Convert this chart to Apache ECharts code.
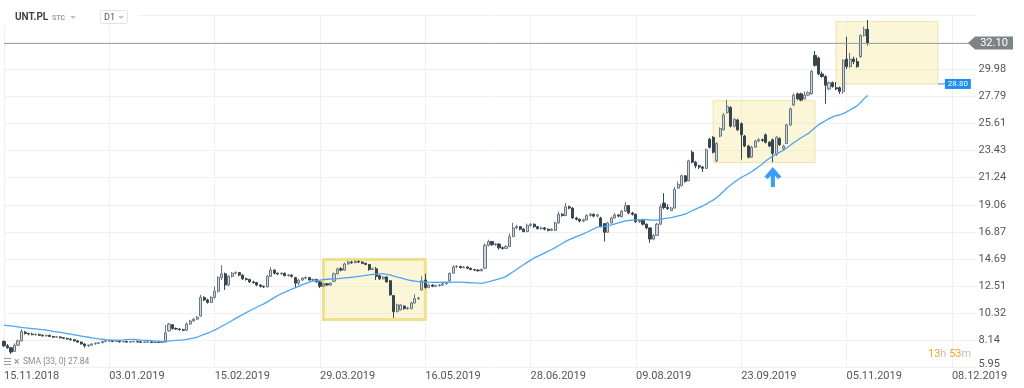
<!DOCTYPE html>
<html><head><meta charset="utf-8">
<script src="https://cdn.jsdelivr.net/npm/echarts@6/dist/echarts.min.js"></script>
<style>html,body{margin:0;padding:0;background:#fff}#c{width:1024px;height:388px}</style>
</head><body><div id="c"></div>
<script>
// ---- data ----
const tickLabels = ['15.11.2018','03.01.2019','15.02.2019','29.03.2019','16.05.2019','28.06.2019','09.08.2019','23.09.2019','05.11.2019','08.12.2019'];
const TOTAL_SLOTS = 278;   // trading-day slots on the axis (data + empty future)
const TICK_EVERY = 30;
const opens = [
8.05,7.7,7.55,7.25,7.75,8.1,8.8,8.7,8.65,8.6,
8.62,8.55,8.5,8.55,8.45,8.4,8.42,8.35,8.3,8.25,
8.2,8.1,8.0,7.85,7.7,7.75,7.85,7.9,7.95,8.05,
8.1,8.1,8.05,8.08,8.02,8.05,8.0,8.03,8.05,8.02,
7.98,8.0,8.02,7.97,8.0,7.98,8.0,8.9,9.4,9.1,
9.05,9.0,8.95,9.45,9.7,9.85,10.1,11.6,11.4,11.2,
11.6,12.1,13.2,13.5,12.6,13.3,13.55,13.6,13.4,13.1,
13.05,12.85,12.8,12.6,12.5,12.45,13.3,13.8,13.55,13.5,
13.55,13.35,13.4,13.2,12.75,13.0,13.15,13.2,13.0,13.05,
12.85,12.5,12.7,12.6,12.9,13.5,13.9,13.8,14.3,14.45,
14.4,14.5,14.45,14.35,14.25,13.85,13.9,13.35,13.1,13.25,
12.95,11.75,10.45,10.6,10.9,10.7,10.7,11.15,11.5,12.2,
13.0,12.4,12.6,12.5,12.55,12.6,12.7,12.95,13.55,14.05,
14.1,14.0,14.05,13.95,13.85,13.8,13.75,13.95,15.8,16.1,
15.85,15.9,15.6,15.55,15.7,16.5,17.2,17.3,17.1,16.9,
17.4,17.5,17.3,17.15,17.2,17.1,17.0,17.0,17.6,18.3,
18.2,18.9,18.8,18.0,17.9,17.75,17.85,18.2,18.3,18.15,
18.0,17.55,16.85,17.6,18.0,18.25,18.1,18.55,19.0,18.4,
18.3,17.7,17.8,17.5,17.2,16.3,16.6,17.5,19.2,18.85,
18.6,18.8,20.4,20.6,21.4,21.0,23.3,22.5,22.2,22.1,
22.0,24.35,24.5,22.6,24.6,25.1,26.5,26.9,25.4,25.9,
25.6,24.6,23.8,22.9,23.7,24.2,24.3,24.7,24.1,24.3,
23.1,24.4,23.6,24.0,25.5,27.1,28.0,28.0,27.6,27.9,
28.0,31.1,30.9,29.6,29.4,28.4,28.9,28.5,28.5,28.2,
30.8,30.2,30.8,30.6,31.0,32.7,33.2];
const closes = [
7.7,7.55,7.2,7.75,8.1,8.85,8.7,8.65,8.6,8.62,
8.55,8.5,8.55,8.45,8.4,8.42,8.35,8.3,8.25,8.2,
8.1,8.0,7.85,7.7,7.75,7.85,7.9,7.95,8.05,8.1,
8.1,8.05,8.08,8.02,8.05,8.0,8.03,8.05,8.02,7.98,
8.0,8.02,7.97,8.0,7.98,8.0,8.75,9.45,9.1,9.05,
9.0,8.95,9.45,9.7,9.85,10.0,11.6,11.4,11.2,11.6,
12.1,13.2,13.5,12.6,13.3,13.55,13.6,13.4,13.1,13.05,
12.85,12.8,12.6,12.5,12.45,13.3,13.8,13.55,13.5,13.55,
13.35,13.4,13.3,12.75,13.0,13.15,13.2,13.0,13.05,12.85,
12.5,12.7,12.6,12.75,13.5,13.9,13.8,14.3,14.45,14.4,
14.5,14.45,14.35,14.25,13.85,13.9,13.3,13.1,13.25,12.85,
11.8,10.45,11.0,11.0,10.7,10.75,11.15,11.5,11.55,12.95,
12.4,12.6,12.5,12.55,12.6,12.7,12.8,13.55,14.05,14.1,
14.0,14.05,13.95,13.85,13.8,13.75,13.85,15.8,16.1,15.85,
15.9,15.6,15.55,15.7,16.5,17.2,17.3,17.1,16.9,17.4,
17.5,17.3,17.15,17.2,17.1,17.0,17.1,17.6,18.3,18.2,
18.9,18.8,18.0,17.9,17.75,17.85,18.2,18.3,18.15,18.25,
17.3,16.85,17.6,18.0,18.25,18.15,18.55,19.0,18.4,18.3,
17.7,17.8,17.5,17.2,16.3,16.6,17.5,18.9,18.85,18.75,
18.8,20.3,20.7,21.4,20.95,22.6,22.5,22.2,22.1,22.0,
23.5,23.7,23.3,24.0,25.2,26.3,27.0,25.4,25.95,25.1,
24.7,23.8,22.9,23.7,24.2,24.3,24.25,24.1,23.8,23.2,
24.5,23.9,23.8,25.5,26.8,27.9,27.6,27.5,27.9,28.1,
29.8,30.3,29.6,29.4,28.7,28.9,28.6,28.4,28.2,30.7,
30.2,30.8,30.6,30.2,32.7,33.2,32.1];
const lows = [
7.6,7.45,7.05,7.2,7.7,8.05,8.6,8.55,8.55,8.5,
8.5,8.45,8.45,8.4,8.35,8.33,8.3,8.25,8.2,8.12,
8.05,7.95,7.8,7.55,7.6,7.7,7.8,7.85,7.9,8.0,
8.02,8.0,8.0,7.97,7.98,7.95,7.95,7.98,7.96,7.92,
7.93,7.95,7.92,7.92,7.92,7.93,7.95,8.85,9.0,8.98,
8.92,8.88,8.9,9.4,9.65,9.8,10.05,11.3,11.1,11.15,
11.5,12.0,13.0,12.2,12.5,13.2,13.45,13.3,13.0,12.95,
12.75,12.7,12.5,12.4,12.35,12.4,13.25,13.45,13.4,13.42,
13.3,13.28,13.2,12.4,12.6,12.95,13.05,12.95,12.92,12.8,
12.35,12.45,12.55,12.55,12.85,13.45,13.7,13.75,14.25,14.3,
14.35,14.38,14.28,14.2,13.75,13.8,13.0,13.0,13.05,12.8,
11.75,9.95,10.4,10.55,10.6,10.6,10.65,11.1,11.4,12.15,
12.3,12.35,12.42,12.42,12.48,12.52,12.62,12.9,13.5,13.95,
13.92,13.95,13.88,13.78,13.72,13.68,13.7,13.9,15.7,15.75,
15.75,15.45,15.45,15.5,15.65,16.45,17.1,17.0,16.85,16.85,
17.3,17.2,17.05,17.05,17.0,16.92,16.95,16.95,17.55,18.1,
18.15,18.7,17.95,17.8,17.65,17.65,17.8,18.1,18.05,18.05,
17.25,16.1,16.8,17.55,17.95,18.05,18.05,18.5,18.3,18.2,
17.6,17.6,17.4,17.1,16.0,16.2,16.55,17.45,18.7,18.65,
18.55,18.75,20.35,20.55,20.85,20.95,22.4,22.0,21.95,21.7,
21.95,23.6,23.2,22.5,24.5,25.05,26.4,25.3,25.3,25.0,
22.7,23.7,22.8,22.85,23.65,24.1,24.15,24.0,23.7,22.5,
23.0,23.8,23.4,23.95,25.4,27.0,27.5,27.4,27.55,27.85,
27.95,30.2,29.5,29.3,27.2,28.3,28.5,28.3,28.0,28.0,
30.0,30.1,30.4,30.1,30.9,32.6,31.9];
const highs = [
8.15,7.85,7.6,7.9,8.2,9.05,8.9,8.75,8.75,8.7,
8.68,8.62,8.6,8.6,8.5,8.5,8.46,8.4,8.36,8.3,
8.25,8.15,8.05,7.9,7.82,7.9,7.98,8.02,8.1,8.15,
8.18,8.15,8.14,8.12,8.1,8.1,8.08,8.12,8.1,8.06,
8.05,8.08,8.06,8.05,8.05,8.06,9.38,9.55,9.45,9.18,
9.12,9.08,9.6,9.8,9.95,10.1,11.8,11.7,11.5,11.7,
12.5,13.3,14.2,13.6,13.4,13.65,13.7,13.65,13.45,13.2,
13.1,12.95,12.85,12.65,12.55,13.4,14.05,13.85,13.6,13.62,
13.6,13.48,13.45,13.25,13.1,13.22,13.3,13.25,13.1,13.1,
12.9,12.78,12.76,12.8,13.6,14.0,14.05,14.4,14.55,14.55,
14.6,14.58,14.5,14.4,14.3,14.0,14.05,13.4,13.3,13.3,
13.0,11.8,11.1,11.05,10.95,10.85,11.25,11.85,11.65,13.3,
13.5,12.7,12.66,12.62,12.68,12.76,12.86,13.6,14.2,14.2,
14.15,14.12,14.1,14.0,13.9,13.86,13.92,15.95,16.25,16.15,
16.0,15.98,15.7,15.8,16.75,17.6,17.45,17.35,17.2,17.55,
17.6,17.55,17.35,17.3,17.28,17.15,17.18,17.7,18.5,18.4,
19.2,19.0,18.85,18.1,17.95,17.95,18.3,18.4,18.35,18.35,
18.1,17.6,17.7,18.1,18.4,18.3,18.65,19.3,19.05,18.5,
18.35,17.9,17.85,17.55,17.25,16.7,17.6,19.1,20.0,19.1,
18.9,20.5,20.95,21.5,21.45,22.7,23.45,22.6,22.3,22.2,
23.6,24.45,24.6,24.1,25.3,26.45,27.5,27.0,26.05,26.0,
25.7,24.7,23.9,23.8,24.3,24.45,24.4,24.8,24.2,24.4,
24.6,24.5,23.9,25.6,26.9,28.05,28.1,28.1,28.2,28.2,
29.95,31.45,31.0,29.8,29.5,29.0,29.0,28.95,28.6,30.8,
32.6,31.3,31.0,30.9,32.8,33.4,33.95];
// SMA(33) for the first 32 sessions (earlier closes not visible)
const smaHead = [9.36,9.33,9.3,9.26,9.22,9.18,9.15,9.12,9.09,9.06,9.03,9.0,8.96,8.92,8.87,8.83,
8.79,8.74,8.69,8.64,8.59,8.54,8.49,8.44,8.39,8.34,8.3,8.26,8.23,8.2,8.18,8.16];
const SMA_PERIOD = 33;
const smaLegend = 'SMA [33, 0] 27.84';
const lastPrice = 32.10;
const boxLowPrice = 28.80;
// rectangles drawn on the chart: [startIdx, topPrice, endIdx, bottomPrice]
const boxes = [[91, 14.66, 120, 9.82], [202, 27.45, 231, 22.46], [237, 33.82, 266, 28.80]];
const arrowAt = [219, 21.3];
const yMin = 5.9535, yStep = 2.1841, yTickCount = 13;

// ---- build ----
const cats = Array.from({length: TOTAL_SLOTS}, (_, i) => String(i));
const candles = opens.map((o, i) => [o, closes[i], lows[i], highs[i]]);
const sma = closes.map((c, i) => {
  if (i < SMA_PERIOD - 1) return smaHead[i];
  let s = 0; for (let k = i - SMA_PERIOD + 1; k <= i; k++) s += closes[k];
  return +(s / SMA_PERIOD).toFixed(3);
});

const chart = echarts.init(document.getElementById('c'), null, {renderer: 'canvas'});
const FONT = 'Roboto';
const boxStyles = [
  {color: 'rgba(246,228,140,0.33)', borderColor: '#f0e08e', borderWidth: 3},
  {color: 'rgba(246,228,140,0.33)', borderColor: '#efe3a6', borderWidth: 1},
  {color: 'rgba(246,228,140,0.33)', borderColor: '#efe3a6', borderWidth: 1}
];
chart.setOption({
  animation: false,
  backgroundColor: '#fff',
  grid: {left: 4, right: 47.5, top: 15.1, bottom: 20.5, outerBoundsMode: 'none'},
  xAxis: {
    type: 'category', data: cats, boundaryGap: false,
    axisLine: {show: false}, axisTick: {show: false},
    axisLabel: {
      interval: TICK_EVERY - 1, align: 'left', margin: 3,
      color: '#555', fontSize: 11, fontFamily: FONT,
      formatter: (v, i) => (i % TICK_EVERY === 0 && tickLabels[i / TICK_EVERY]) || ''
    },
    splitLine: {show: true, interval: TICK_EVERY - 1, lineStyle: {color: '#eef0f2', width: 1}}
  },
  yAxis: {
    type: 'value', position: 'right',
    min: yMin, max: yMin + yStep * yTickCount, interval: yStep,
    axisLine: {show: false}, axisTick: {show: false},
    axisLabel: {
      margin: 2, color: '#555', fontSize: 11, fontFamily: FONT,
      formatter: v => v > 31 ? '' : (Math.abs(v - yMin) < 1e-6 ? '{low|' + v.toFixed(2) + '}' : v.toFixed(2)),
      rich: {low: {padding: [0, 0, 6, 0], color: '#555', fontSize: 11, fontFamily: FONT}}
    },
    splitLine: {show: true, lineStyle: {color: '#eef0f2', width: 1}}
  },
  series: [
    {
      type: 'candlestick', data: candles, barWidth: 2.6, clip: false,
      itemStyle: {color: '#d0d6db', color0: '#37454f', borderColor: '#6b7780', borderColor0: '#37454f', borderWidth: 1},
      markArea: {
        silent: true,
        data: boxes.map((b, k) => [
          {coord: [String(b[0]), b[1]], itemStyle: boxStyles[k]},
          {coord: [String(b[2]), b[3]]}
        ])
      },
      markLine: {
        silent: true, symbol: ['none', 'none'], label: {show: false},
        lineStyle: {color: '#9ea4a8', width: 1, type: 'solid'},
        data: [{yAxis: lastPrice}]
      },
      markPoint: {
        silent: true, label: {show: false},
        data: [{
          coord: [String(arrowAt[0]), arrowAt[1]],
          symbol: 'path://M50,0 L100,48 L80,60 L62,44 L62,100 L38,100 L38,44 L20,60 L0,48 Z',
          symbolSize: [17, 20], symbolOffset: [0, 0],
          itemStyle: {color: '#3a9ef5'}
        }]
      }
    },
    {
      type: 'line', data: sma, showSymbol: false, symbol: 'none', smooth: false,
      lineStyle: {color: '#4aa5f3', width: 1.3}, z: 3
    }
  ]
});

const yLast = chart.convertToPixel({yAxisIndex: 0}, lastPrice);
const yBox = chart.convertToPixel({yAxisIndex: 0}, boxLowPrice);
const xBox = chart.convertToPixel({xAxisIndex: 0}, String(boxes[2][2]));
chart.setOption({
  graphic: [
    {type: 'rect', z: 100, shape: {x: 0, y: 0, width: 138, height: 25}, style: {fill: '#fff'}},
    {type: 'text', z: 101, x: 15, y: 17.5, style: {text: 'UNT.PL', font: 'bold 10px ' + FONT, fill: '#444', verticalAlign: 'middle'}},
    {type: 'text', z: 101, x: 52, y: 18, style: {text: 'STC', font: 'bold 7px ' + FONT, fill: '#9a9a9a', verticalAlign: 'middle'}},
    {type: 'polygon', z: 101, shape: {points: [[70, 16], [76, 16], [73, 19]]}, style: {fill: '#c4c4c4'}},
    {type: 'rect', z: 101, shape: {x: 100.5, y: 10.5, width: 27, height: 13, r: 2}, style: {fill: '#fff', stroke: '#e2e2e2', lineWidth: 1}},
    {type: 'text', z: 102, x: 104, y: 17.5, style: {text: 'D1', font: '9px ' + FONT, fill: '#555', verticalAlign: 'middle'}},
    {type: 'polygon', z: 102, shape: {points: [[118, 16], [124, 16], [121, 19]]}, style: {fill: '#c4c4c4'}},
    // current price tag
    {type: 'polygon', z: 100, shape: {points: [[968, yLast], [975, yLast - 6.5], [1013, yLast - 6.5], [1013, yLast + 6.5], [975, yLast + 6.5]]}, style: {fill: '#7d8488'}},
    {type: 'text', z: 101, x: 994, y: yLast, style: {text: lastPrice.toFixed(2), font: '11px ' + FONT, fill: '#fff', align: 'center', verticalAlign: 'middle'}},
    // rectangle price tag
    {type: 'line', z: 100, shape: {x1: xBox, y1: yBox, x2: xBox + 7, y2: yBox}, style: {stroke: '#1e8ef0', lineWidth: 1}},
    {type: 'rect', z: 100, shape: {x: xBox + 7, y: yBox - 5, width: 26, height: 10}, style: {fill: '#1e8ef0'}},
    {type: 'text', z: 101, x: xBox + 20, y: yBox, style: {text: boxLowPrice.toFixed(2), font: '8px ' + FONT, fill: '#fff', align: 'center', verticalAlign: 'middle'}},
    // indicator legend
    {type: 'rect', z: 100, shape: {x: 4, y: 358, width: 7, height: 1}, style: {fill: '#9a9a9a'}},
    {type: 'rect', z: 100, shape: {x: 4, y: 361, width: 7, height: 1}, style: {fill: '#9a9a9a'}},
    {type: 'rect', z: 100, shape: {x: 4, y: 364, width: 7, height: 1}, style: {fill: '#9a9a9a'}},
    {type: 'text', z: 100, x: 14, y: 362, style: {text: '×', font: 'bold 10px ' + FONT, fill: '#9a9a9a', verticalAlign: 'middle'}},
    {type: 'text', z: 100, x: 23, y: 362, style: {text: smaLegend, font: '8.5px ' + FONT, fill: '#8c8c8c', verticalAlign: 'middle'}},
    // countdown
    {type: 'text', z: 100, x: 928, y: 354, style: {
      text: '{a|13}{b|h} {a|53}{b|m}', verticalAlign: 'middle', font: '11px ' + FONT,
      rich: {a: {fill: '#f5a623', font: '11px ' + FONT}, b: {fill: '#bdbdbd', font: '11px ' + FONT}}
    }}
  ]
});
</script></body></html>
